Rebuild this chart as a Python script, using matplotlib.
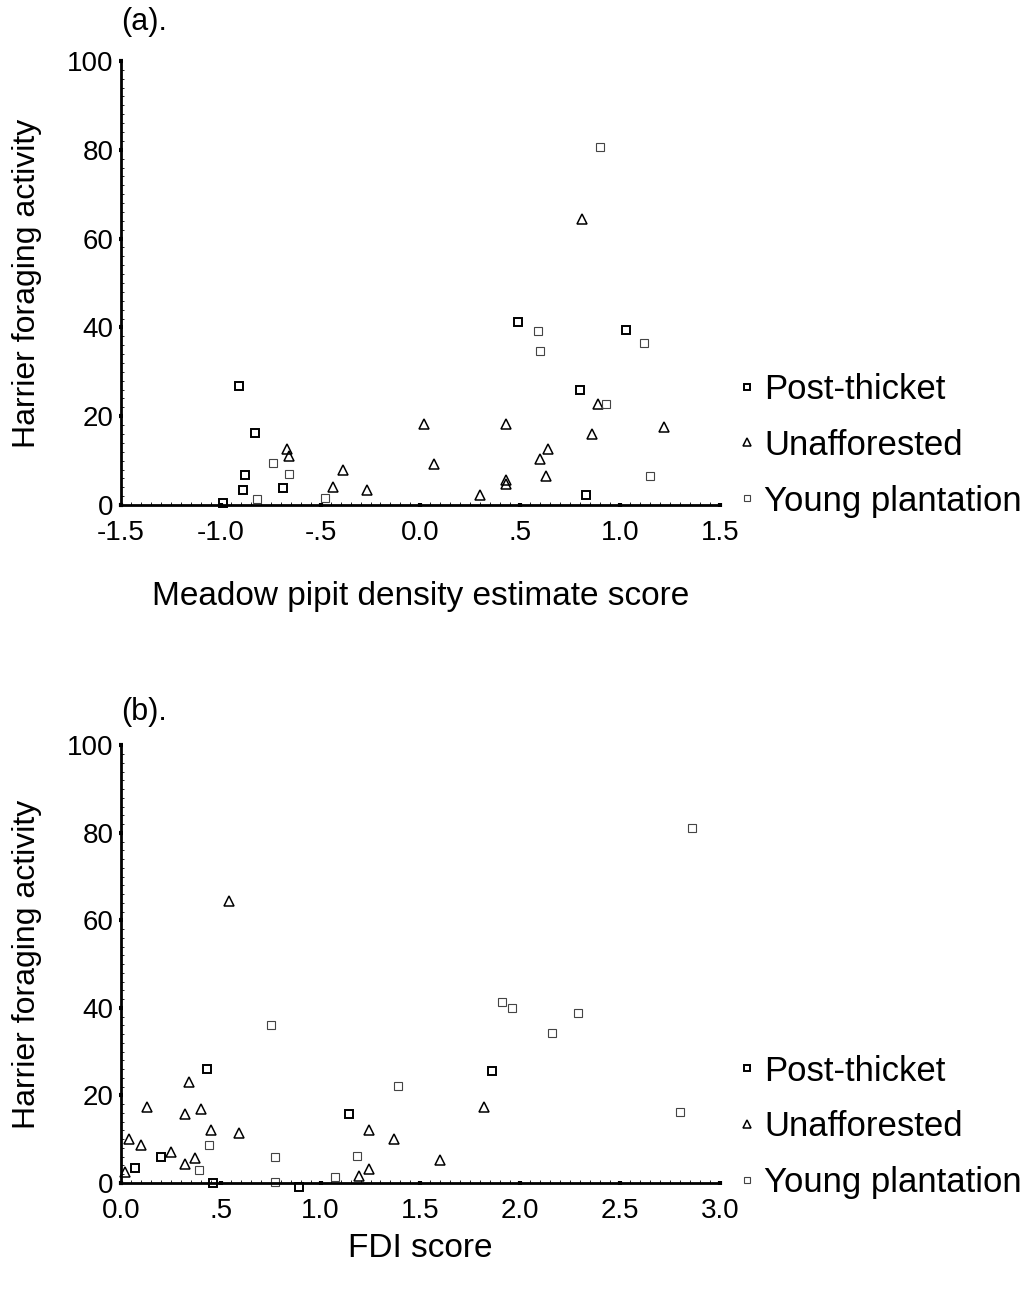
import matplotlib.pyplot as plt
from matplotlib.ticker import MultipleLocator

plt.rcParams['font.family'] = ['Liberation Sans', 'DejaVu Sans']

# (a) Meadow pipit density estimate score vs harrier foraging activity
a_post_x = [0.49, 1.03, -0.91, 0.80, -0.83, -0.88, -0.89, -0.99, -0.69, 0.83]
a_post_y = [41.2, 39.4, 26.8, 25.9, 16.2, 6.8, 3.4, 0.5, 3.8, 2.3]
a_unaff_x = [0.81, 0.02, 0.43, 1.22, 0.86, -0.67, -0.66, 0.64, 0.60, 0.07,
             -0.39, -0.44, -0.27, 0.30, 0.43, 0.43, 0.63, 0.89]
a_unaff_y = [64.4, 18.2, 18.2, 17.6, 16.0, 12.6, 11.0, 12.6, 10.4, 9.2,
             7.9, 4.1, 3.4, 2.3, 5.6, 4.7, 6.5, 22.7]
a_young_x = [0.90, 0.59, 0.60, 1.12, 0.93, -0.82, -0.74, -0.66, -0.48, 1.15]
a_young_y = [80.6, 39.2, 34.7, 36.5, 22.7, 1.4, 9.5, 7.0, 1.6, 6.5]

# (b) FDI score vs harrier foraging activity
b_post_x = [0.43, 1.86, 1.14, 0.07, 0.20, 0.46, 0.89]
b_post_y = [26.0, 25.6, 15.8, 3.4, 5.9, 0.0, -1.0]
b_unaff_x = [0.54, 0.34, 0.13, 0.32, 0.40, 0.45, 0.59, 0.04, 0.10, 0.25,
             0.32, 0.37, 0.02, 1.82, 1.24, 1.37, 1.60, 1.19, 1.24]
b_unaff_y = [64.4, 23.0, 17.4, 15.8, 17.0, 12.1, 11.4, 10.0, 8.7, 7.0,
             4.3, 5.7, 2.5, 17.4, 12.1, 10.0, 5.3, 1.6, 3.2]
b_young_x = [2.86, 0.75, 1.91, 1.96, 2.29, 2.16, 1.39, 2.80, 0.39, 0.44,
             0.77, 0.77, 1.07, 1.18]
b_young_y = [81.0, 36.0, 41.3, 40.0, 38.8, 34.2, 22.1, 16.2, 3.0, 8.7,
             5.9, 0.2, 1.4, 6.2]

y_ticks = [0, 20, 40, 60, 80, 100]
a_xticks = [-1.5, -1.0, -0.5, 0.0, 0.5, 1.0, 1.5]
a_xlabels = ['-1.5', '-1.0', '-.5', '0.0', '.5', '1.0', '1.5']
b_xticks = [0.0, 0.5, 1.0, 1.5, 2.0, 2.5, 3.0]
b_xlabels = ['0.0', '.5', '1.0', '1.5', '2.0', '2.5', '3.0']
groups = ['Post-thicket', 'Unafforested', 'Young plantation']


def draw_panel(ax, post, unaff, young, xlim, xticks, xlabels, xlabel, tag,
               xlabel_y, tag_y, legend_y):
    ax.plot(post[0], post[1], ls='none', marker='s', ms=6, mfc='none',
            mec='black', mew=1.4, clip_on=False, label=groups[0])
    ax.plot(unaff[0], unaff[1], ls='none', marker='^', ms=7, mfc='none',
            mec='black', mew=1.1, clip_on=False, label=groups[1])
    ax.plot(young[0], young[1], ls='none', marker='s', ms=6, mfc='none',
            mec='#444444', mew=0.8, clip_on=False, label=groups[2])

    ax.set_xlim(xlim)
    ax.set_ylim(0, 100)
    ax.set_xticks(xticks)
    ax.set_xticklabels(xlabels)
    ax.set_yticks(y_ticks)
    ax.xaxis.set_minor_locator(MultipleLocator(0.05))
    ax.yaxis.set_minor_locator(MultipleLocator(2))

    for side in ['top', 'right']:
        ax.spines[side].set_visible(False)
    for side in ['left', 'bottom']:
        ax.spines[side].set_linewidth(2)
    ax.tick_params(which='major', length=3, width=3, direction='inout',
                   labelsize=20)
    ax.tick_params(axis='x', which='major', pad=9)
    ax.tick_params(axis='y', which='major', pad=4)
    ax.tick_params(which='minor', length=2, width=0.6, direction='in')

    ax.set_xlabel(xlabel, fontsize=24)
    ax.xaxis.set_label_coords(0.5, xlabel_y)
    ax.set_ylabel('Harrier foraging activity', fontsize=23)
    ax.yaxis.set_label_coords(-0.132, 0.5)
    ax.text(0.0, tag_y, tag, transform=ax.transAxes, fontsize=22,
            ha='left', va='bottom')

    ax.legend(loc='center left', bbox_to_anchor=(1.01, legend_y),
              frameon=False, fontsize=25, handlelength=0.4,
              handletextpad=0.3, labelspacing=0.66, borderaxespad=0,
              borderpad=0.4, markerscale=0.8)


fig = plt.figure(figsize=(10.36, 12.91), dpi=100)
ax_a = fig.add_axes([0.1168, 0.6088, 0.578, 0.344])
ax_b = fig.add_axes([0.1168, 0.0837, 0.578, 0.339])

draw_panel(ax_a, (a_post_x, a_post_y), (a_unaff_x, a_unaff_y),
           (a_young_x, a_young_y), (-1.5, 1.5), a_xticks, a_xlabels,
           'Meadow pipit density estimate score', '(a).',
           -0.17, 1.055, 0.135)
draw_panel(ax_b, (b_post_x, b_post_y), (b_unaff_x, b_unaff_y),
           (b_young_x, b_young_y), (0.0, 3.0), b_xticks, b_xlabels,
           'FDI score', '(b).',
           -0.115, 1.041, 0.128)

plt.savefig('out.png', dpi=100)
plt.close()
